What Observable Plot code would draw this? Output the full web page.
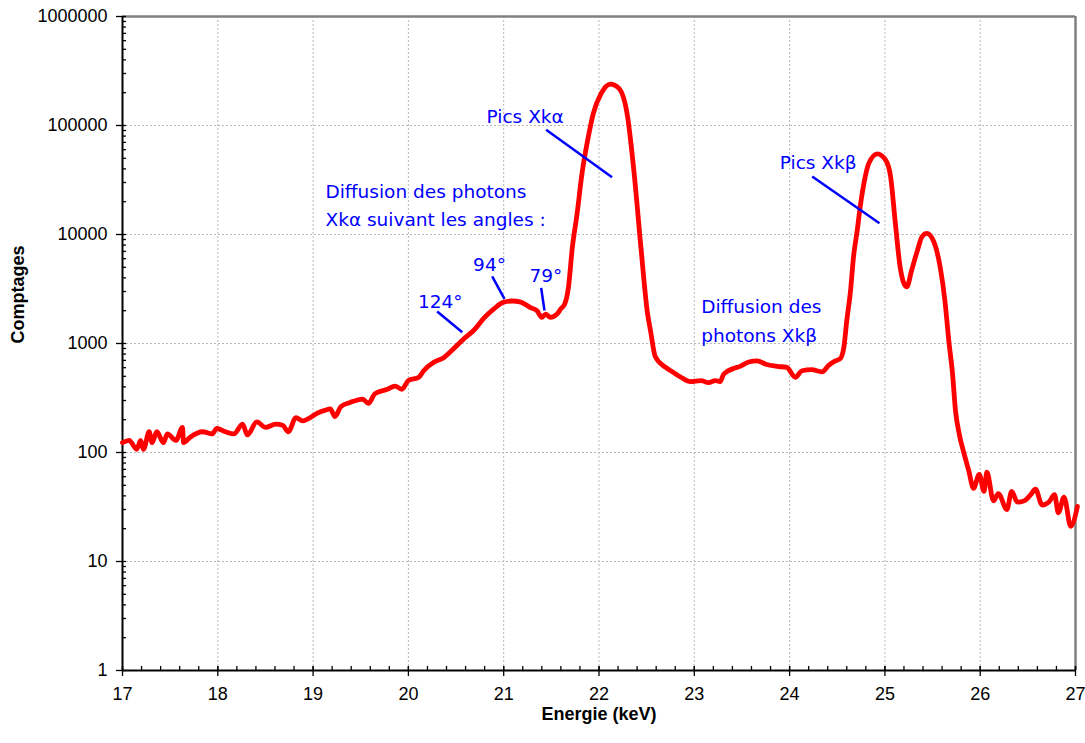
<!DOCTYPE html>
<html>
<head>
<meta charset="utf-8">
<script src="https://cdn.jsdelivr.net/npm/d3@7"></script>
<script src="https://cdn.jsdelivr.net/npm/@observablehq/plot@0.6"></script>
<style>
  html, body { margin: 0; padding: 0; background: #fff; }
  #chart svg { display: block; }
</style>
</head>
<body>
<div id="chart"></div>
<script>
// Spectrum: energy (keV) and counts
const energy = [
  17.00, 17.07, 17.15, 17.19, 17.22, 17.28, 17.31, 17.36, 17.43, 17.47,
  17.56, 17.63, 17.64, 17.71, 17.84, 17.94, 17.99, 18.08, 18.17, 18.26,
  18.31, 18.41, 18.50, 18.61, 18.68, 18.74, 18.82, 18.89, 18.97, 19.04,
  19.13, 19.18, 19.23, 19.29, 19.39, 19.52, 19.58, 19.65, 19.78, 19.86,
  19.93, 20.00, 20.11, 20.16, 20.27, 20.37, 20.46, 20.58, 20.69, 20.79,
  20.90, 21.00, 21.09, 21.18, 21.28, 21.35, 21.40, 21.44, 21.49, 21.56,
  21.60, 21.64, 21.68, 21.72, 21.77, 21.82, 21.88, 21.94, 22.02, 22.12,
  22.21, 22.30, 22.37, 22.44, 22.51, 22.54, 22.59, 22.70, 22.77, 22.86,
  22.96, 23.07, 23.15, 23.22, 23.27, 23.31, 23.41, 23.48, 23.57, 23.66,
  23.75, 23.87, 23.97, 24.06, 24.13, 24.23, 24.34, 24.41, 24.48, 24.53,
  24.57, 24.60, 24.64, 24.67, 24.71, 24.74, 24.78, 24.83, 24.92, 25.01,
  25.06, 25.11, 25.16, 25.20, 25.23, 25.28, 25.34, 25.39, 25.44, 25.51,
  25.58, 25.63, 25.67, 25.71, 25.74, 25.78, 25.83, 25.88, 25.93, 25.99,
  26.04, 26.07, 26.14, 26.19, 26.28, 26.33, 26.39, 26.46, 26.53, 26.58,
  26.65, 26.72, 26.78, 26.82, 26.88, 26.95, 27.02
];
const counts = [
  123, 129, 107, 129, 107, 155, 123, 155, 123, 148,
  129, 170, 123, 138, 155, 148, 166, 155, 148, 182,
  145, 191, 170, 182, 178, 155, 209, 195, 209, 229,
  245, 251, 214, 263, 288, 309, 282, 347, 380, 407,
  380, 457, 490, 562, 676, 741, 871, 1100, 1330, 1698,
  2089, 2399, 2455, 2399, 2138, 1995, 1738, 1862, 1738, 1862,
  2089, 2300, 3311, 7586, 15490, 35480, 72440, 128800, 195000, 240000,
  218800, 120200, 35480, 7586, 1862, 1318, 759, 603, 550, 490,
  447, 457, 437, 457, 447, 525, 589, 617, 676, 692,
  646, 617, 603, 490, 562, 575, 550, 631, 692, 724,
  933, 1622, 3090, 6166, 10960, 17780, 29510, 44670, 54950, 47860,
  33880, 12590, 5012, 3548, 3311, 4677, 7079, 9550, 10230, 8710,
  5012, 2455, 1072, 525, 245, 148, 98, 68, 47, 63,
  44, 66, 36, 42, 30, 44, 35, 36, 41, 46,
  33, 35, 41, 28, 39, 21, 32
];

// Axis ticks
const xMajor = [17, 18, 19, 20, 21, 22, 23, 24, 25, 26, 27];
const xMinor = d3.range(17, 27.001, 0.2).map(v => +v.toFixed(1));
const yMajor = [1, 10, 100, 1000, 10000, 100000, 1000000];
const yMinor = yMajor.slice(0, -1).flatMap(d => [2,3,4,5,6,7,8,9].map(k => k * d));
const xGrid = [18, 19, 20, 21, 22, 23, 24, 25, 26];
const yGrid = [10, 100, 1000, 10000, 100000];

// Annotations (energy, counts)
const labelsStart = [
  {x: 20.82, y: 119700, t: "Pics Xkα"},
  {x: 23.897, y: 44800, t: "Pics Xkβ"},
  {x: 19.13, y: 24550, t: "Diffusion des photons"},
  {x: 19.13, y: 13580, t: "Xkα suivant les angles :"},
  {x: 23.072, y: 2139, t: "Diffusion des"},
  {x: 23.072, y: 1172, t: "photons Xkβ"}
];
const labelsMiddle = [
  {x: 20.851, y: 5195, t: "94°"},
  {x: 21.442, y: 4120, t: "79°"},
  {x: 20.334, y: 2377, t: "124°"}
];
const leaders = [
  {x1: 21.445, y1: 91380, x2: 22.137, y2: 33560},
  {x1: 24.237, y1: 34060, x2: 24.943, y2: 12700},
  {x1: 20.879, y1: 4120, x2: 21.008, y2: 2570},
  {x1: 21.393, y1: 3243, x2: 21.428, y2: 2009},
  {x1: 20.302, y1: 1967, x2: 20.565, y2: 1270}
];

const spectrum = energy.map((e, i) => ({e, c: counts[i]}));

const W = 1085, H = 743, ML = 122, MR = 10, MT = 16, MB = 73;
const FW = W - ML - MR, FH = H - MT - MB;
const blue = "#0000ff";
const annFont = "DejaVu Sans, Verdana, sans-serif";

const chart = Plot.plot({
  width: W, height: H,
  marginLeft: ML, marginRight: MR, marginTop: MT, marginBottom: MB,
  x: {domain: [17, 27], axis: null},
  y: {type: "log", domain: [1, 1000000], axis: null},
  style: {fontFamily: "Liberation Sans, Arial, sans-serif", fontSize: "18px", color: "#000", background: "#fff"},
  marks: [
    // grid
    Plot.ruleX(xGrid, {x: d => d, stroke: "#b8b8b8", strokeWidth: 1, strokeDasharray: "2,2"}),
    Plot.ruleY(yGrid, {y: d => d, stroke: "#b8b8b8", strokeWidth: 1, strokeDasharray: "2,2"}),
    // frame top/right
    Plot.ruleY([1000000], {y: d => d, stroke: "#808080", strokeWidth: 2.5}),
    Plot.ruleX([27], {x: d => d, stroke: "#808080", strokeWidth: 2.5}),
    // minor inward ticks
    Plot.ruleX(xMinor, {x: d => d, stroke: "#000", strokeWidth: 1.3, insetTop: FH - 4}),
    Plot.ruleY(yMinor, {y: d => d, stroke: "#000", strokeWidth: 1.3, insetRight: FW - 4}),
    // major ticks (in and out)
    Plot.ruleX(xMajor, {x: d => d, stroke: "#000", strokeWidth: 1.3, insetTop: FH - 4, insetBottom: -6}),
    Plot.ruleY(yMajor, {y: d => d, stroke: "#000", strokeWidth: 1.3, insetRight: FW - 4, insetLeft: -6}),
    // axis lines
    Plot.ruleX([17], {x: d => d, stroke: "#000", strokeWidth: 2}),
    Plot.ruleY([1], {y: d => d, stroke: "#000", strokeWidth: 2}),
    // tick labels
    Plot.text(xMajor, {x: d => d, frameAnchor: "bottom", dy: 29, text: d => String(d), fontSize: 18, fill: "#000"}),
    Plot.text(yMajor, {y: d => d, frameAnchor: "left", dx: -15, textAnchor: "end", text: d => d3.format("d")(d), fontSize: 18, fill: "#000"}),
    // axis titles
    Plot.text(["Energie (keV)"], {frameAnchor: "bottom", dy: 49, text: d => d, fontWeight: "bold", fontSize: 18, fill: "#000"}),
    Plot.text(["Comptages"], {frameAnchor: "left", dx: -104, rotate: -90, text: d => d, fontWeight: "bold", fontSize: 18, fill: "#000"}),
    // spectrum
    Plot.line(spectrum, {x: "e", y: "c", stroke: "#ff0000", strokeWidth: 4.8, curve: "monotone-x", strokeLinejoin: "round", strokeLinecap: "round"}),
    // annotations
    Plot.link(leaders, {x1: "x1", y1: "y1", x2: "x2", y2: "y2", stroke: blue, strokeWidth: 2.5}),
    Plot.text(labelsStart, {x: "x", y: "y", text: "t", textAnchor: "start", fill: blue, fontSize: 18.5, fontFamily: annFont}),
    Plot.text(labelsMiddle, {x: "x", y: "y", text: "t", textAnchor: "middle", fill: blue, fontSize: 18.5, fontFamily: annFont})
  ]
});
document.getElementById("chart").appendChild(chart);
</script>
</body>
</html>
